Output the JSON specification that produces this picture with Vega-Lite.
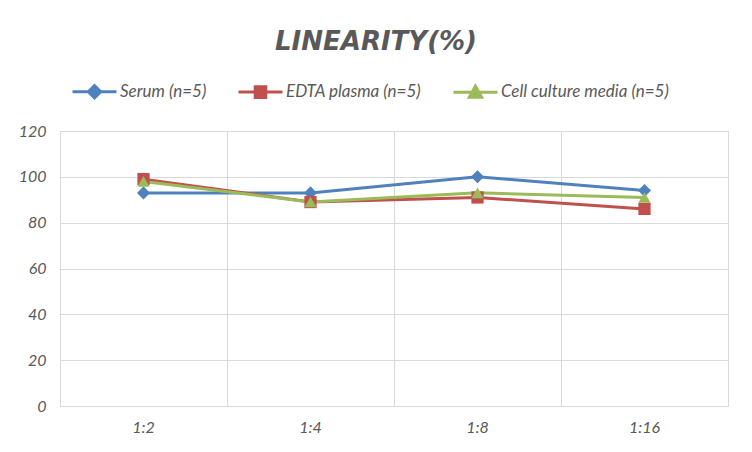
{
  "$schema": "https://vega.github.io/schema/vega-lite/v6.json",
  "width": 668,
  "height": 275,
  "autosize": {"type": "none"},
  "padding": {"left": 60, "top": 131, "right": 24, "bottom": 46},
  "background": "#ffffff",
  "config": {
    "font": "Lato",
    "view": {"stroke": "#d9d9d9", "strokeWidth": 1}
  },
  "title": {
    "text": "LINEARITY(%)",
    "font": "DejaVu Sans",
    "fontSize": 26,
    "fontWeight": "bold",
    "fontStyle": "italic",
    "color": "#595959",
    "anchor": "middle",
    "frame": "group",
    "dx": -18,
    "offset": 13
  },
  "data": {
    "values": [
      {"dilution": "1:2", "series": "Serum (n=5)", "value": 93},
      {"dilution": "1:4", "series": "Serum (n=5)", "value": 93},
      {"dilution": "1:8", "series": "Serum (n=5)", "value": 100},
      {"dilution": "1:16", "series": "Serum (n=5)", "value": 94},
      {"dilution": "1:2", "series": "EDTA plasma (n=5)", "value": 99},
      {"dilution": "1:4", "series": "EDTA plasma (n=5)", "value": 89},
      {"dilution": "1:8", "series": "EDTA plasma (n=5)", "value": 91},
      {"dilution": "1:16", "series": "EDTA plasma (n=5)", "value": 86},
      {"dilution": "1:2", "series": "Cell culture media (n=5)", "value": 98},
      {"dilution": "1:4", "series": "Cell culture media (n=5)", "value": 89},
      {"dilution": "1:8", "series": "Cell culture media (n=5)", "value": 93},
      {"dilution": "1:16", "series": "Cell culture media (n=5)", "value": 91}
    ]
  },
  "encoding": {
    "x": {
      "field": "dilution",
      "type": "ordinal",
      "sort": ["1:2", "1:4", "1:8", "1:16"],
      "bandPosition": 0.5,
      "scale": {"type": "band", "paddingInner": 0, "paddingOuter": 0},
      "axis": {
        "title": null,
        "bandPosition": 0,
        "labelOffset": 0,
        "labelAngle": 0,
        "labelFont": "Lato",
        "labelFontSize": 16,
        "labelFontStyle": "italic",
        "labelColor": "#595959",
        "labelPadding": 13,
        "ticks": false,
        "domain": true,
        "domainColor": "#d9d9d9",
        "grid": true,
        "gridColor": "#d9d9d9",
        "gridWidth": 1
      }
    },
    "y": {
      "field": "value",
      "type": "quantitative",
      "scale": {"domain": [0, 120]},
      "axis": {
        "title": null,
        "values": [0, 20, 40, 60, 80, 100, 120],
        "labelFont": "Lato",
        "labelFontSize": 16,
        "labelFontStyle": "italic",
        "labelColor": "#595959",
        "labelPadding": 14,
        "ticks": false,
        "domain": false,
        "grid": true,
        "gridColor": "#d9d9d9",
        "gridWidth": 1
      }
    },
    "color": {
      "field": "series",
      "type": "nominal",
      "scale": {
        "domain": ["Serum (n=5)", "EDTA plasma (n=5)", "Cell culture media (n=5)"],
        "range": ["#4f81bd", "#c0504d", "#9bbb59"]
      },
      "legend": {
        "title": null,
        "orient": "none",
        "direction": "horizontal",
        "legendX": 11,
        "legendY": -63,
        "columnPadding": 25,
        "labelFont": "Lato",
        "labelFontSize": 17,
        "labelFontStyle": "italic",
        "labelColor": "#595959",
        "labelOffset": 2,
        "labelLimit": 400,
        "symbolSize": 1936,
        "symbolStrokeWidth": 3,
        "encode": {
          "symbols": {
            "update": {
              "shape": {"signal": "datum.value == 'Serum (n=5)' ? 'M-1,0H1M0,-0.28L0.28,0L0,0.28L-0.28,0Z' : datum.value == 'EDTA plasma (n=5)' ? 'M-1,0H1M-0.24,-0.24H0.24V0.24H-0.24Z' : 'M-1,0H1M0,-0.28L0.28,0.22H-0.28Z'"},
              "fill": {"scale": "color", "field": "value"},
              "stroke": {"scale": "color", "field": "value"},
              "strokeWidth": {"value": 3},
              "opacity": {"value": 1}
            }
          }
        }
      }
    }
  },
  "layer": [
    {
      "mark": {"type": "line", "strokeWidth": 3}
    },
    {
      "transform": [{"filter": "datum.series == 'Serum (n=5)'"}],
      "mark": {"type": "point", "shape": "diamond", "filled": true, "opacity": 1, "size": 170}
    },
    {
      "transform": [{"filter": "datum.series == 'EDTA plasma (n=5)'"}],
      "mark": {"type": "point", "shape": "square", "filled": true, "opacity": 1, "size": 150}
    },
    {
      "transform": [{"filter": "datum.series == 'Cell culture media (n=5)'"}],
      "mark": {"type": "point", "shape": "triangle-up", "filled": true, "opacity": 1, "size": 150}
    }
  ]
}
